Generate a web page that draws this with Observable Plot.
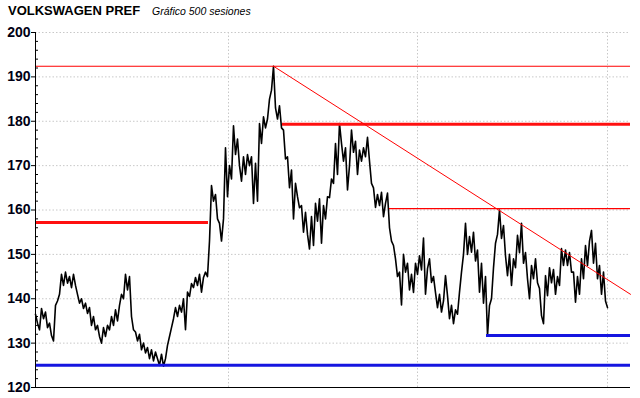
<!DOCTYPE html>
<html><head><meta charset="utf-8">
<script src="https://cdn.jsdelivr.net/npm/d3@7"></script>
<script src="https://cdn.jsdelivr.net/npm/@observablehq/plot@0.6"></script>
<style>
body{margin:0;background:#fff;width:640px;height:398px;overflow:hidden;font-family:"Liberation Sans",Arial,sans-serif;color:#000}
#title{height:20px;position:relative}
#title .t{position:absolute;left:8px;top:3px;font-weight:bold;font-size:13px}
#title .s{position:absolute;left:152px;top:5px;font-style:italic;font-size:10.5px}
</style></head><body>
<div id="title"><span class="t">VOLKSWAGEN PREF</span><span class="s">Gráfico 500 sesiones</span></div>
<div id="chart"></div>
<script>
// Price trace (one value per ~1.75 sessions)
const prices = [
136.5,134.5,133,137.8,135.5,137,133.5,134.5,131.7,130.5,
138.5,139.5,141,145.5,143,146,143.5,145,142.5,145.5,
143,141,139,140,137.8,139,136.7,138,134,136,
133,134,131.5,130,133.5,131.5,134,133,136,134,
137.5,135,138.5,141,140,145.5,142,145,136,133,
132.5,130.5,132,128.5,130,127.8,129,126.5,128.5,126,
128,126.5,125,127.5,124.8,126.5,129.5,131.5,133.5,135.5,
138,136,138.5,137,140,133,141.5,140.5,143.4,142.5,
144.8,143,145.5,141.5,144.8,146,145,153,165.5,162,
163.5,158,157,153,158,174,163,170,167,179,
172.5,176,170,166.5,172,168,172.5,170,172,161.5,
170.5,162,179.5,175,181,178.5,180.5,185,187,192.4,
183,180.5,183.5,178.5,178,171.5,172,165,169,158,
166,163,160.5,161,155,159.5,154.5,151.2,158.5,152,
161.5,157.5,162.5,152.5,161,158,163,162.8,167,166,
175,168,179.5,175,171,174,164.5,170,178,173,
175.5,168,173.5,171,174,172,176.4,171,166,165,
160.6,163.5,161,164,158.5,161.5,163.8,156,153,152,
149,145,146,138.6,150,146,148,142,145.5,141.4,
148,145.5,149.7,146.5,153.7,141,146.8,149,143.7,145,
141.4,138,141,137,139.5,145.2,140.7,135.5,138.5,134.4,
137.5,136.5,141.5,146,150,157,150,154,150.5,155,
148.5,151,141.5,148,139,145,131.7,138.5,140,147,
152.5,154.5,160,153.6,156.5,149.7,145.2,150,143,149,
147,154.3,150.4,157,148,150.4,144.5,140,147.5,144.5,
149,143.6,142.3,136.2,134.4,145.2,140.7,147,143.6,146.6,
141,145,143,151.3,147.5,151,147.5,150.4,146,146,
139.2,145,141,149,144.5,152,147.5,153,155.4,148,
152.5,144.5,147.5,141,146,139.5,138
];
const xEnd = 297.5;
const yMajor = [120,130,140,150,160,170,180,190,200];
const yLabels = ["120","130","140","150","160","170","180","190","200"];
const yMinor = [122,124,126,128,132,134,136,138,142,144,146,148,152,154,156,158,162,164,166,168,172,174,176,178,182,184,186,188,192,194,196,198];
const gridY = [130,140,150,160,170,180,190,200];
const gridX = [96.5,191,286];
// horizontal support / resistance levels
const levelValues = [192.4,179.3,160.3,157.2,125,131.7];
const levelStarts = [0,123.5,177,0,0,225.5];
const levelEnds = [xEnd,xEnd,xEnd,86.5,xEnd,xEnd];
const levelKinds = ["thinRed","thickRed","thinRed","thickRed","blue","blue"];
// descending trend line
const trendX = [119, xEnd];
const trendY = [192.4, 141.0];

const levels = levelValues.map((v,i)=>({y:v,x1:levelStarts[i],x2:levelEnds[i],kind:levelKinds[i]}));
const pts = prices.map((p,i)=>({i,p}));
const trend = trendX.map((x,i)=>({x,y:trendY[i]}));
const labels = yMajor.map((v,i)=>({v,t:yLabels[i]}));

const chart = Plot.plot({
  width:640, height:378,
  marginLeft:35, marginRight:10, marginTop:12, marginBottom:11,
  style:{fontFamily:"'Liberation Sans',Arial,sans-serif", fontSize:"13px", color:"#000", background:"#fff"},
  x:{domain:[0,xEnd], axis:null},
  y:{domain:[120,200], axis:null},
  marks:[
    Plot.ruleY(gridY,{stroke:"#c8c8c8",strokeDasharray:"1.5,2",strokeWidth:1}),
    Plot.ruleX(gridX,{stroke:"#c8c8c8",strokeDasharray:"1.5,2",strokeWidth:1}),
    Plot.line(pts,{x:"i",y:"p",stroke:"#000",strokeWidth:1.6}),
    Plot.ruleY(levels.filter(d=>d.kind==="thinRed"),{y:"y",x1:"x1",x2:"x2",stroke:"#ff0000",strokeWidth:1.2}),
    Plot.ruleY(levels.filter(d=>d.kind==="thickRed"),{y:"y",x1:"x1",x2:"x2",stroke:"#ff1010",strokeWidth:3}),
    Plot.ruleY(levels.filter(d=>d.kind==="blue"),{y:"y",x1:"x1",x2:"x2",stroke:"#1515e0",strokeWidth:3}),
    Plot.line(trend,{x:"x",y:"y",stroke:"#ff0000",strokeWidth:1}),
    Plot.ruleX([0],{stroke:"#000",strokeWidth:1}),
    Plot.ruleY([120],{stroke:"#000",strokeWidth:1}),
    Plot.ruleY(yMinor,{x1:0,x2:1.5,stroke:"#000",strokeWidth:1}),
    Plot.ruleY(yMajor,{x1:-2,x2:0,stroke:"#000",strokeWidth:1}),
    Plot.text(labels,{x:0,y:"v",text:"t",textAnchor:"end",dx:-5,fontWeight:"bold",fontSize:14,fill:"#000014",fontFamily:"'Liberation Sans',Arial,sans-serif"})
  ]
});
document.getElementById("chart").appendChild(chart);
</script>
</body></html>
